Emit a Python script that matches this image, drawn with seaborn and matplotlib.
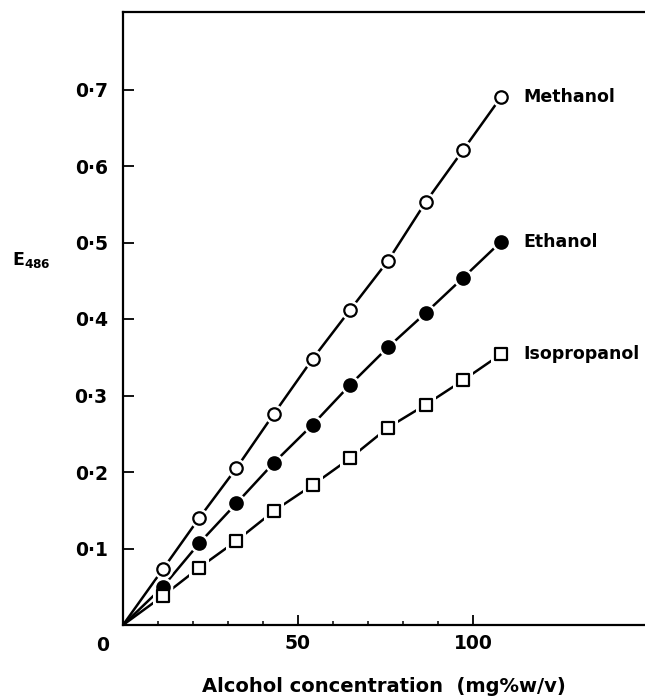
import matplotlib
matplotlib.use("Agg")
import matplotlib.pyplot as plt
import seaborn as sns
import pandas as pd
from matplotlib.ticker import FixedLocator

# ---- data ----
conc = [11.4, 21.8, 32.4, 43.1, 54.2, 64.9, 75.7, 86.5, 97.2, 108.0]
methanol = [0.073, 0.140, 0.205, 0.276, 0.348, 0.412, 0.476, 0.553, 0.621, 0.690]
ethanol = [0.050, 0.107, 0.159, 0.212, 0.262, 0.314, 0.363, 0.408, 0.454, 0.501]
isopropanol = [0.038, 0.075, 0.110, 0.149, 0.183, 0.218, 0.258, 0.288, 0.320, 0.354]
origin_x = [0.0]
origin_y = [0.0]
series_names = ["Methanol", "Ethanol", "Isopropanol"]
y_ticks = [0.1, 0.2, 0.3, 0.4, 0.5, 0.6, 0.7]
y_tick_labels = ["0·1", "0·2", "0·3", "0·4", "0·5", "0·6", "0·7"]
x_major = [50, 100]
x_major_labels = ["50", "100"]
x_minor = [10, 20, 30, 40, 60, 70, 80, 90]

sns.set_theme(style="ticks")
plt.rcParams["font.family"] = ["DejaVu Sans"]
plt.rcParams["mathtext.fontset"] = "dejavusans"
plt.rcParams["text.color"] = "black"
plt.rcParams["axes.labelcolor"] = "black"

W, H = 645, 699
fig = plt.figure(figsize=(W / 100, H / 100), dpi=100)
ax = fig.add_axes([123 / W, (H - 625) / H, 522 / W, 613 / H])

styles = {
    "Methanol": dict(marker="o", face="white"),
    "Ethanol": dict(marker="o", face="black"),
    "Isopropanol": dict(marker="s", face="white"),
}
values = {"Methanol": methanol, "Ethanol": ethanol, "Isopropanol": isopropanol}

for name in series_names:
    yv = values[name]
    line_df = pd.DataFrame({"x": origin_x + conc, "y": origin_y + yv})
    pts_df = pd.DataFrame({"x": conc, "y": yv})
    sns.lineplot(data=line_df, x="x", y="y", ax=ax, color="black", lw=1.8,
                 sort=False, estimator=None, zorder=2)
    st = styles[name]
    # white halo to create gaps between line and marker
    sns.scatterplot(data=pts_df, x="x", y="y", ax=ax, marker=st["marker"],
                    s=200, color="white", edgecolor="white", linewidth=0, zorder=3)
    sns.scatterplot(data=pts_df, x="x", y="y", ax=ax, marker=st["marker"],
                    s=80, facecolor=st["face"], edgecolor="black",
                    linewidth=1.6, zorder=4)
    ax.text(conc[-1] + 6.3, yv[-1], name, ha="left", va="center",
            fontsize=12.5, fontweight="bold", color="black")

ax.set_xlim(0, 522 / 3.5)
ax.set_ylim(0, 613 / 765)

ax.set_yticks(y_ticks)
ax.set_yticklabels(y_tick_labels)
ax.set_xticks(x_major)
ax.set_xticklabels(x_major_labels)
ax.xaxis.set_minor_locator(FixedLocator(x_minor))

ax.tick_params(axis="y", direction="in", length=8, width=1.3, pad=11,
               labelsize=13.5, colors="black")
ax.tick_params(axis="x", which="major", direction="in", length=7.5, width=1.3,
               pad=6.5, labelsize=13.5, colors="black")
ax.tick_params(axis="x", which="minor", direction="in", length=3, width=1.3)
for lab in ax.get_xticklabels() + ax.get_yticklabels():
    lab.set_fontweight("bold")

for side in ["left", "bottom", "top"]:
    ax.spines[side].set_linewidth(1.6)
    ax.spines[side].set_color("black")
ax.spines["right"].set_visible(False)

ax.set_xlabel("Alcohol concentration  (mg%w/v)", fontsize=14,
              fontweight="bold", labelpad=17.5, color="black")
ax.set_ylabel("")

# corner zero label
ax.annotate("0", xy=(0, 0), xycoords="data", xytext=(-15, -14.5),
            textcoords="offset points", ha="center", va="center",
            fontsize=13.5, fontweight="bold", color="black")

fig.text(12 / W, 1 - 260 / H, r"E$_{\mathbf{486}}$", ha="left", va="center",
         fontsize=12.5, fontweight="bold", color="black")

fig.savefig("out.png", dpi=100, facecolor="white")
